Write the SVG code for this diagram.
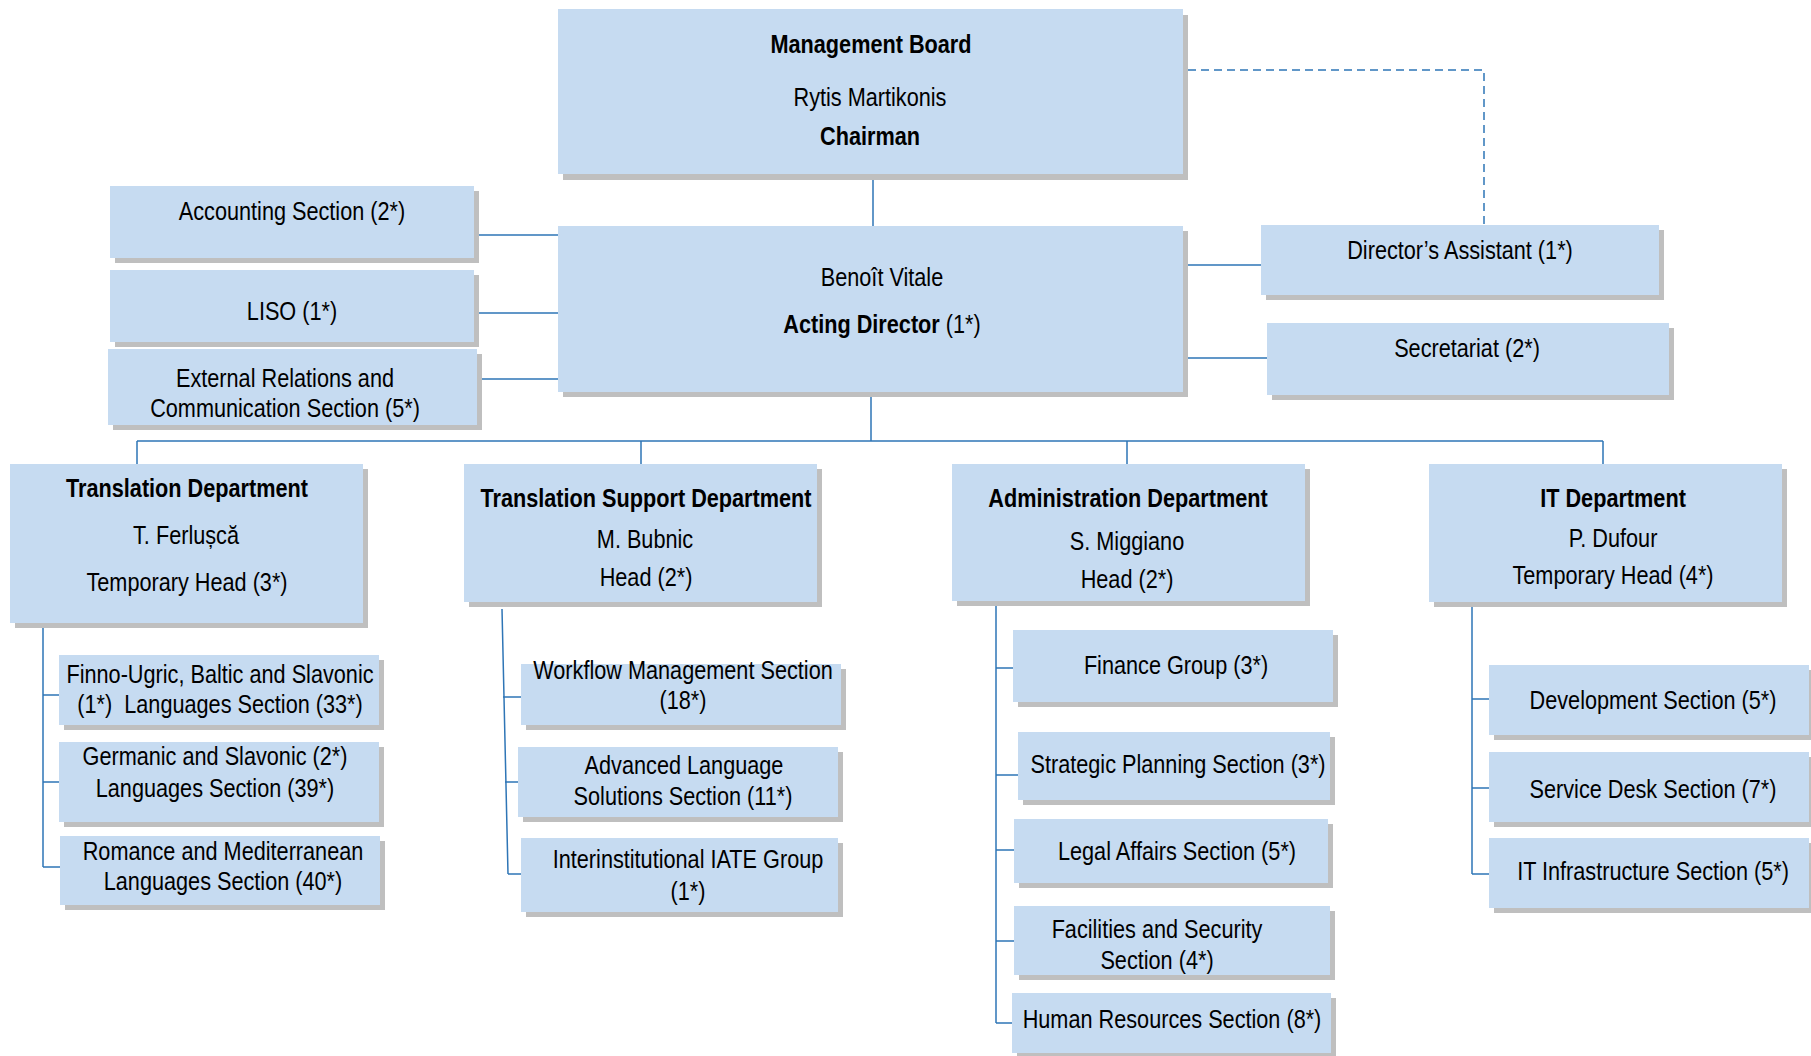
<svg xmlns="http://www.w3.org/2000/svg" width="1811" height="1056" viewBox="0 0 1811 1056">
<style>
.box{fill:#c6dbf1}
.sh{fill:#bfbfbf}
.ln{stroke:#2e75b6;stroke-width:1.5;fill:none}
.dash{stroke-dasharray:8 5}
text{font-family:"Liberation Sans",Arial,sans-serif;font-size:25.5px;text-anchor:middle;fill:#000}
.b{font-weight:bold}
.pre{white-space:pre}
</style>
<rect width="1811" height="1056" fill="#fff"/>
<g id="connectors">
<path class="ln" d="M873 174V226"/>
<path class="ln" d="M479 235H558M479 313H558M479 379H558"/>
<path class="ln" d="M1183 265H1261M1188 358H1267"/>
<path class="ln dash" d="M1188 70H1484V225"/>
<path class="ln" d="M871 397V441M137 441H1603M137 441V464M641 441V464M1127 441V464M1603 441V464"/>
<path class="ln" d="M43 623V867M43 695H59M43 782H59M43 867H60"/>
<path class="ln" d="M502 609L508 874M503 697H521M505 782H518M508 874H521"/>
<path class="ln" d="M996 601V1023M996 668H1013M996 775H1018M996 850H1014M996 941H1014M996 1023H1012"/>
<path class="ln" d="M1472 602V874M1472 699H1489M1472 788H1489M1472 874H1489"/>
</g>
<g id="management-board">
<rect class="sh" x="563" y="15" width="625" height="165"/><rect class="box" x="558" y="9" width="625" height="165"/>
<text class="b" transform="translate(871 53) scale(0.85 1)">Management Board</text>
<text transform="translate(870 106) scale(0.85 1)">Rytis Martikonis</text>
<text class="b" transform="translate(870 145) scale(0.85 1)">Chairman</text>
</g>
<g id="acting-director">
<rect class="sh" x="563" y="231" width="625" height="166"/><rect class="box" x="558" y="226" width="625" height="166"/>
<text transform="translate(882 286) scale(0.85 1)">Benoît Vitale</text>
<text transform="translate(882 333) scale(0.85 1)"><tspan class="b">Acting Director</tspan> (1*)</text>
</g>
<g id="accounting">
<rect class="sh" x="115" y="191" width="364" height="72"/><rect class="box" x="110" y="186" width="364" height="72"/>
<text transform="translate(292 220) scale(0.85 1)">Accounting Section (2*)</text>
</g>
<g id="liso">
<rect class="sh" x="115" y="275" width="364" height="72"/><rect class="box" x="110" y="270" width="364" height="72"/>
<text transform="translate(292 320) scale(0.85 1)">LISO (1*)</text>
</g>
<g id="external-relations">
<rect class="sh" x="113" y="354" width="369" height="76"/><rect class="box" x="108" y="349" width="369" height="76"/>
<text transform="translate(285 387) scale(0.85 1)">External Relations and</text>
<text transform="translate(285 417) scale(0.85 1)">Communication Section (5*)</text>
</g>
<g id="directors-assistant">
<rect class="sh" x="1266" y="230" width="398" height="70"/><rect class="box" x="1261" y="225" width="398" height="70"/>
<text transform="translate(1460 259) scale(0.85 1)">Director’s Assistant (1*)</text>
</g>
<g id="secretariat">
<rect class="sh" x="1272" y="328" width="402" height="72"/><rect class="box" x="1267" y="323" width="402" height="72"/>
<text transform="translate(1467 357) scale(0.85 1)">Secretariat (2*)</text>
</g>
<g id="translation-department">
<rect class="sh" x="15" y="469" width="353" height="159"/><rect class="box" x="10" y="464" width="353" height="159"/>
<text class="b" transform="translate(187 497) scale(0.85 1)">Translation Department</text>
<text transform="translate(186 544) scale(0.85 1)">T. Ferlușcă</text>
<text transform="translate(187 591) scale(0.85 1)">Temporary Head (3*)</text>
</g>
<g id="finno-ugric">
<rect class="sh" x="64" y="660" width="320" height="70"/><rect class="box" x="59" y="655" width="320" height="70"/>
<text transform="translate(220 683) scale(0.85 1)">Finno-Ugric, Baltic and Slavonic</text>
<text class="pre" transform="translate(220 713) scale(0.85 1)">(1*)  Languages Section (33*)</text>
</g>
<g id="germanic-slavonic">
<rect class="sh" x="64" y="747" width="320" height="80"/><rect class="box" x="59" y="742" width="320" height="80"/>
<text transform="translate(215 765) scale(0.85 1)">Germanic and Slavonic (2*)</text>
<text transform="translate(215 797) scale(0.85 1)">Languages Section (39*)</text>
</g>
<g id="romance-mediterranean">
<rect class="sh" x="65" y="841" width="320" height="69"/><rect class="box" x="60" y="836" width="320" height="69"/>
<text transform="translate(223 860) scale(0.85 1)">Romance and Mediterranean</text>
<text transform="translate(223 890) scale(0.85 1)">Languages Section (40*)</text>
</g>
<g id="translation-support-department">
<rect class="sh" x="469" y="469" width="353" height="138"/><rect class="box" x="464" y="464" width="353" height="138"/>
<text class="b" transform="translate(646 507) scale(0.85 1)">Translation Support Department</text>
<text transform="translate(645 548) scale(0.85 1)">M. Bubnic</text>
<text transform="translate(646 586) scale(0.85 1)">Head (2*)</text>
</g>
<g id="workflow-management">
<rect class="sh" x="526" y="669" width="320" height="61"/><rect class="box" x="521" y="664" width="320" height="61"/>
<text transform="translate(683 679) scale(0.85 1)">Workflow Management Section</text>
<text transform="translate(683 709) scale(0.85 1)">(18*)</text>
</g>
<g id="advanced-language-solutions">
<rect class="sh" x="523" y="752" width="320" height="70"/><rect class="box" x="518" y="747" width="320" height="70"/>
<text transform="translate(684 774) scale(0.85 1)">Advanced Language</text>
<text transform="translate(683 805) scale(0.85 1)">Solutions Section (11*)</text>
</g>
<g id="iate-group">
<rect class="sh" x="526" y="843" width="317" height="74"/><rect class="box" x="521" y="838" width="317" height="74"/>
<text transform="translate(688 868) scale(0.85 1)">Interinstitutional IATE Group</text>
<text transform="translate(688 900) scale(0.85 1)">(1*)</text>
</g>
<g id="administration-department">
<rect class="sh" x="957" y="469" width="353" height="137"/><rect class="box" x="952" y="464" width="353" height="137"/>
<text class="b" transform="translate(1128 507) scale(0.85 1)">Administration Department</text>
<text transform="translate(1127 550) scale(0.85 1)">S. Miggiano</text>
<text transform="translate(1127 588) scale(0.85 1)">Head (2*)</text>
</g>
<g id="finance-group">
<rect class="sh" x="1018" y="635" width="320" height="72"/><rect class="box" x="1013" y="630" width="320" height="72"/>
<text transform="translate(1176 674) scale(0.85 1)">Finance Group (3*)</text>
</g>
<g id="strategic-planning">
<rect class="sh" x="1023" y="737" width="312" height="68"/><rect class="box" x="1018" y="732" width="312" height="68"/>
<text transform="translate(1178 773) scale(0.85 1)">Strategic Planning Section (3*)</text>
</g>
<g id="legal-affairs">
<rect class="sh" x="1019" y="824" width="314" height="64"/><rect class="box" x="1014" y="819" width="314" height="64"/>
<text transform="translate(1177 860) scale(0.85 1)">Legal Affairs Section (5*)</text>
</g>
<g id="facilities-security">
<rect class="sh" x="1019" y="911" width="316" height="69"/><rect class="box" x="1014" y="906" width="316" height="69"/>
<text transform="translate(1157 938) scale(0.85 1)">Facilities and Security</text>
<text transform="translate(1157 969) scale(0.85 1)">Section (4*)</text>
</g>
<g id="human-resources">
<rect class="sh" x="1017" y="998" width="319" height="60"/><rect class="box" x="1012" y="993" width="319" height="60"/>
<text transform="translate(1172 1028) scale(0.85 1)">Human Resources Section (8*)</text>
</g>
<g id="it-department">
<rect class="sh" x="1434" y="469" width="353" height="138"/><rect class="box" x="1429" y="464" width="353" height="138"/>
<text class="b" transform="translate(1613 507) scale(0.85 1)">IT Department</text>
<text transform="translate(1613 547) scale(0.85 1)">P. Dufour</text>
<text transform="translate(1613 584) scale(0.85 1)">Temporary Head (4*)</text>
</g>
<g id="development">
<rect class="sh" x="1494" y="670" width="320" height="70"/><rect class="box" x="1489" y="665" width="320" height="70"/>
<text transform="translate(1653 709) scale(0.85 1)">Development Section (5*)</text>
</g>
<g id="service-desk">
<rect class="sh" x="1494" y="757" width="320" height="70"/><rect class="box" x="1489" y="752" width="320" height="70"/>
<text transform="translate(1653 798) scale(0.85 1)">Service Desk Section (7*)</text>
</g>
<g id="it-infrastructure">
<rect class="sh" x="1494" y="843" width="320" height="70"/><rect class="box" x="1489" y="838" width="320" height="70"/>
<text transform="translate(1653 880) scale(0.85 1)">IT Infrastructure Section (5*)</text>
</g>
</svg>
